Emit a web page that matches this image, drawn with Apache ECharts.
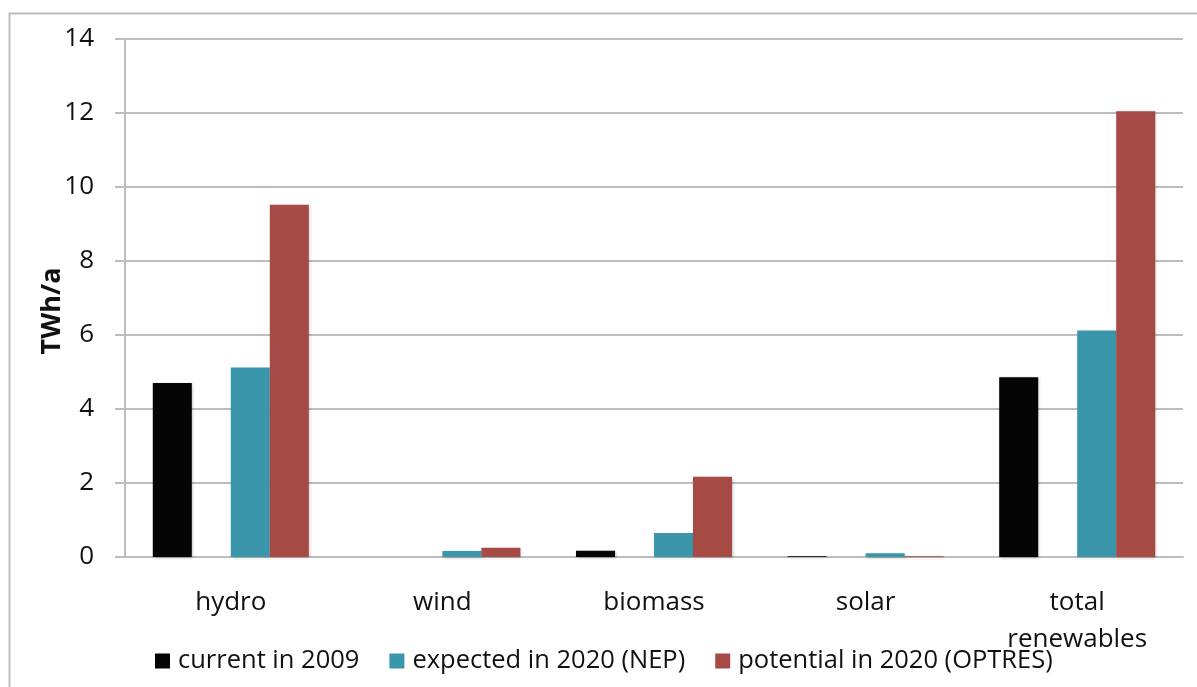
<!DOCTYPE html>
<html>
<head>
<meta charset="utf-8">
<script src="https://cdn.jsdelivr.net/npm/echarts@6/dist/echarts.min.js"></script>
<style>
  html, body { margin: 0; padding: 0; background: #fff; }
  #chart { width: 1197px; height: 687px; }
</style>
</head>
<body>
<div id="chart"></div>
<script>
// Renewable electricity generation, TWh per year
const categories = ['hydro', 'wind', 'biomass', 'solar', 'total\nrenewables'];
const current2009 = [4.70, 0, 0.17, 0.02, 4.86];
const expected2020 = [5.12, 0.16, 0.65, 0.10, 6.12];
const potential2020 = [9.52, 0.25, 2.17, 0.02, 12.05];
const yTicks = { min: 0, max: 14, interval: 2 };

const seriesNames = ['current in 2009', 'expected in 2020 (NEP)', 'potential in 2020 (OPTRES)'];
const colors = ['#050505', '#3a97ab', '#a64a45'];

const chart = echarts.init(document.getElementById('chart'), null, { renderer: 'canvas' });

const barStyle = (c) => ({
  color: c,
  shadowColor: 'rgba(0,0,0,0.25)',
  shadowBlur: 3,
  shadowOffsetX: 1,
  shadowOffsetY: 1
});

const font = '"Open Sans", "Noto Sans", sans-serif';

chart.setOption({
  animation: false,
  backgroundColor: '#fff',
  graphic: [{
    type: 'rect',
    shape: { x: 9.5, y: 13.5, width: 1300, height: 800 },
    style: { fill: 'none', stroke: '#bdbdbd', lineWidth: 2 },
    silent: true
  }],
  grid: { left: 125, right: 14, top: 39, bottom: 130, containLabel: false },
  legend: {
    left: 150,
    top: 643,
    icon: 'rect',
    itemWidth: 15,
    itemHeight: 15,
    itemGap: 30,
    data: seriesNames,
    textStyle: { fontFamily: font, fontSize: 25.5, color: '#111', padding: [0, 0, 0, 3] }
  },
  xAxis: {
    type: 'category',
    data: categories,
    axisLine: { lineStyle: { color: '#bdbdbd', width: 2 } },
    axisTick: { show: false },
    axisLabel: {
      margin: 27,
      fontFamily: font,
      fontSize: 26,
      lineHeight: 37,
      color: '#111'
    }
  },
  yAxis: {
    type: 'value',
    min: yTicks.min,
    max: yTicks.max,
    interval: yTicks.interval,
    name: 'TWh/a',
    nameLocation: 'middle',
    nameGap: 59,
    nameMoveOverlap: false,
    nameRotate: 90,
    nameTextStyle: {
      fontFamily: font, fontSize: 27, fontWeight: 'bold', color: '#111',
      padding: [0, 26, 0, 0]
    },
    axisLine: { show: true, lineStyle: { color: '#bdbdbd', width: 2 } },
    axisTick: { show: true, inside: false, length: 10, lineStyle: { color: '#bdbdbd', width: 2 } },
    splitLine: { lineStyle: { color: '#bdbdbd', width: 2 } },
    axisLabel: {
      margin: 31,
      fontFamily: font,
      fontSize: 26,
      color: '#111'
    }
  },
  series: [
    { name: seriesNames[0], type: 'bar', data: current2009, itemStyle: barStyle(colors[0]), barWidth: 39, barGap: '0%', barCategoryGap: '26%' },
    // empty slot between the 2009 bar and the 2020 pair
    { name: '', type: 'bar', data: [], barWidth: 39 },
    { name: seriesNames[1], type: 'bar', data: expected2020, itemStyle: barStyle(colors[1]), barWidth: 39 },
    { name: seriesNames[2], type: 'bar', data: potential2020, itemStyle: barStyle(colors[2]), barWidth: 39 }
  ]
});
</script>
</body>
</html>
